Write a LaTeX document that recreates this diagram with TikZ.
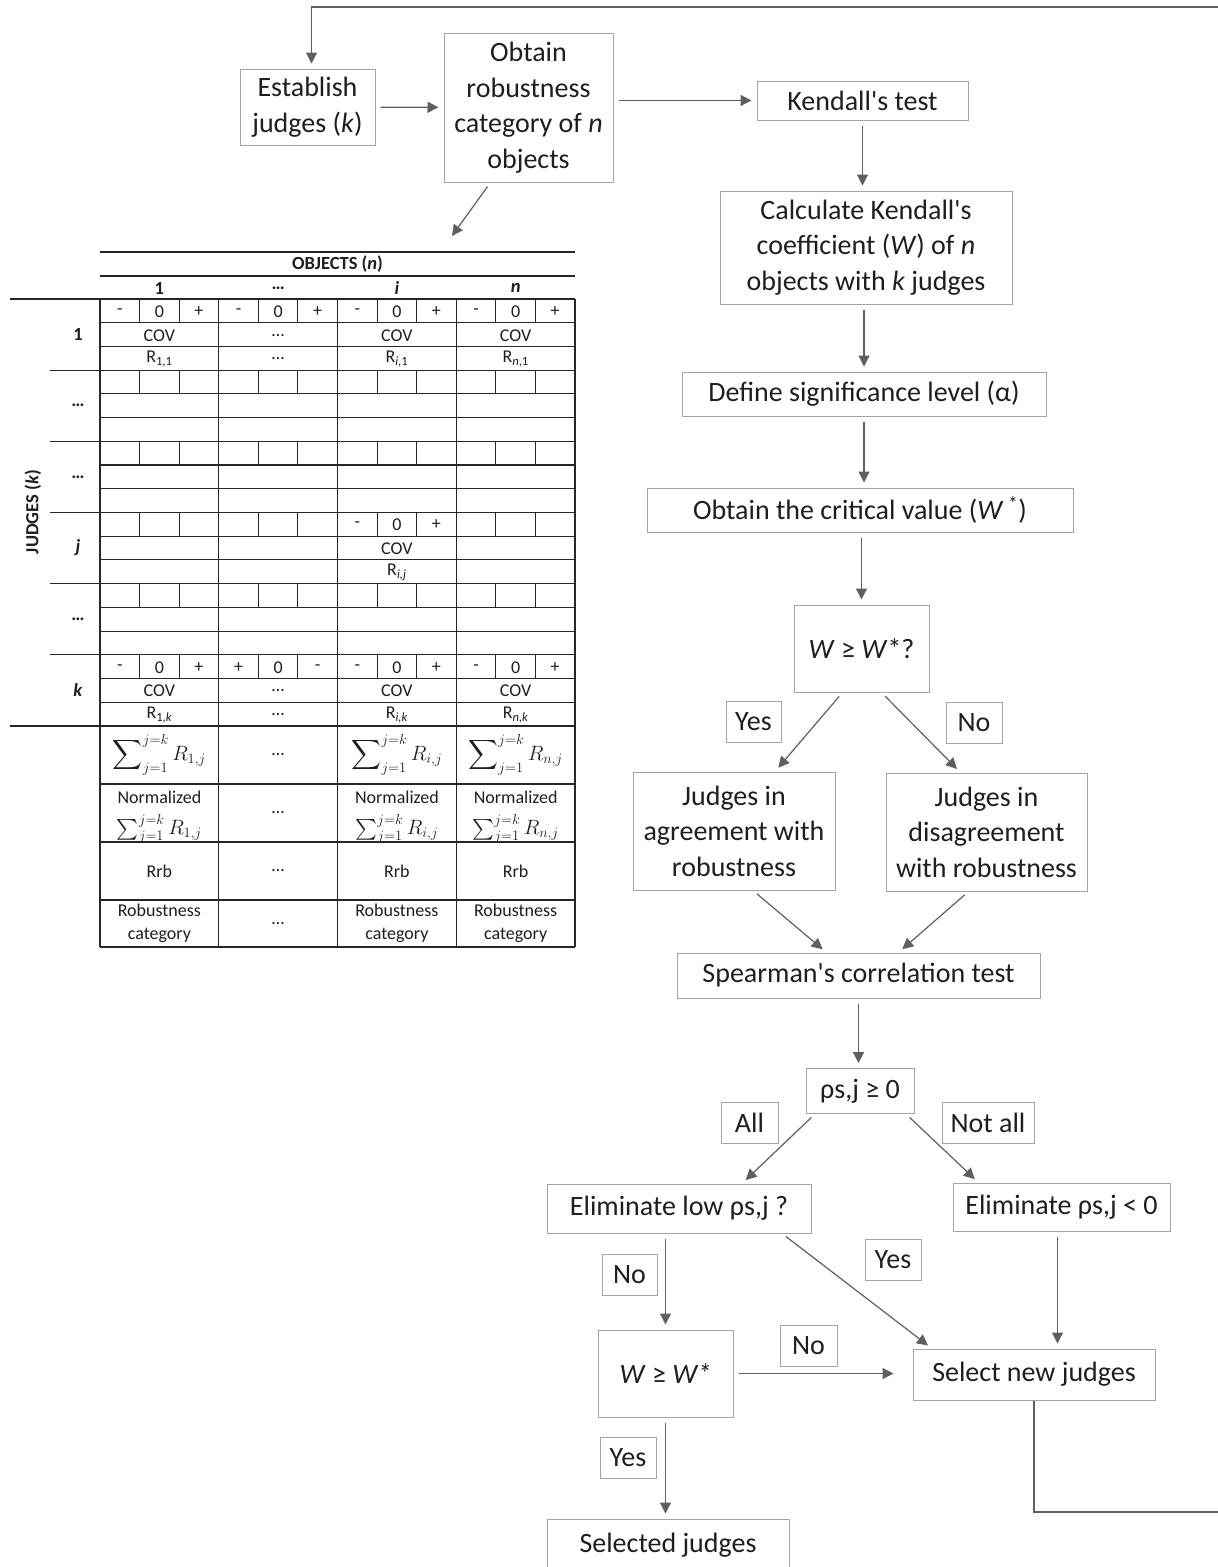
\documentclass[tikz,border=0pt]{standalone}
\usepackage{exscale}
\usepackage{fontspec}
\setmainfont{Carlito}
\usetikzlibrary{arrows.meta}
\definecolor{linea}{HTML}{5F5F5F}
\definecolor{borde}{HTML}{A4A4A4}
\definecolor{tinta}{HTML}{1E1E1E}
\begin{document}
\begin{tikzpicture}[x=1pt,y=-1pt]
\tikzset{caja/.style={draw=borde, line width=1pt, text=tinta, align=center, inner sep=0pt, font=\fontsize{28}{35.5}\selectfont},
  etiq/.style={caja, minimum height=41},
  flecha/.style={-{Triangle[length=11pt,width=11pt]}, color=linea, line width=1.2pt, shorten >=5pt, shorten <=5pt},
  celda/.style={text=tinta, inner sep=0pt, align=center, font=\fontsize{18}{21}\selectfont},
  cabeza/.style={text=tinta, inner sep=0pt, font=\bfseries\fontsize{18.5}{21}\selectfont},
  rejilla/.style={line width=1.1pt, black!85}}

\useasboundingbox (0,0) rectangle (1218,1567);

% table of judges and objects
\draw[rejilla] (100,252) -- (575,252);
\draw[rejilla] (100,276) -- (575,276);
\draw[rejilla] (10,299) -- (575,299);
\draw[rejilla] (10,726) -- (575,726);
\foreach \r in {1,2,4,5,7,8,10,11,13,14,16,17}
  \draw[rejilla] (100,299+\r*23.72) -- (575,299+\r*23.72);
\foreach \r in {3,6,9,12,15}
  \draw[rejilla] (50,299+\r*23.72) -- (575,299+\r*23.72);
\foreach \y in {784,842,900,947}
  \draw[rejilla] (100,\y) -- (575,\y);
\foreach \x in {100,218.75,337.5,456.25,575}
  \draw[rejilla] (\x,299) -- (\x,947);
\foreach \r in {0,3,...,15}
  \foreach \g in {0,1,2,3}{
    \draw[rejilla] (100+\g*118.75+39.58,299+\r*23.72) -- ++(0,23.72);
    \draw[rejilla] (100+\g*118.75+79.17,299+\r*23.72) -- ++(0,23.72);
  }

\draw (337.5,264.5) node[cabeza] (objetos) {OBJECTS (\textit{n})};
\draw (33,512) node[cabeza, rotate=90] (jueces) {JUDGES (\textit{k})};
\foreach \g/\t in {0/1, 1/…, 2/\textit{i}, 3/\textit{n}}
  \draw (159.4+\g*118.75,288) node[cabeza] (col\g) {\t};
\foreach \r/\t in {0/1, 3/…, 6/…, 9/\textit{j}, 12/…, 15/\textit{k}}
  \draw (78,299+\r*23.72+35.58) node[cabeza] (fila\r) {\t};

\foreach \r/\g/\i/\d in {0/0/-/+, 0/1/-/+, 0/2/-/+, 0/3/-/+, 9/2/-/+, 15/0/-/+, 15/1/+/-, 15/2/-/+, 15/3/-/+}{
  \path (100+\g*118.75+19.79,299+\r*23.72+12.5) node[celda] (m\r-\g) {\i}
    ++(39.58,0) node[celda] (c\r-\g) {0}
    ++(39.58,0) node[celda] (p\r-\g) {\d};
}
\foreach \r/\g/\t in {1/0/COV, 1/1/…, 1/2/COV, 1/3/COV,
    2/0/{R\textsubscript{1,1}}, 2/1/…, 2/2/{R\textsubscript{\textit{i},1}}, 2/3/{R\textsubscript{\textit{n},1}},
    10/2/COV, 11/2/{R\textsubscript{\textit{i,j}}},
    16/0/COV, 16/1/…, 16/2/COV, 16/3/COV,
    17/0/{R\textsubscript{1,\textit{k}}}, 17/1/…, 17/2/{R\textsubscript{\textit{i,k}}}, 17/3/{R\textsubscript{\textit{n,k}}}}
  \draw (159.4+\g*118.75,299+\r*23.72+12.5) node[celda] (t\r-\g) {\t};

\foreach \g/\s in {0/1, 2/i, 3/n}{
  \draw (159.4+\g*118.75,755) node[celda, font=\fontsize{19.5}{23}\selectfont] (suma\g) {$\displaystyle\sum\nolimits_{j=1}^{j=k} R_{\s,j}$};
  \draw (159.4+\g*118.75,797) node[celda] (norm\g) {Normalized};
  \draw (159.4+\g*118.75,829) node[celda, font=\fontsize{20}{24}\selectfont] (nsum\g) {$\sum_{j=1}^{j=k} R_{\s,j}$};
  \draw (159.4+\g*118.75,871) node[celda] (rrb\g) {Rrb};
  \draw (159.4+\g*118.75,923.5) node[celda, font=\fontsize{18}{23}\selectfont] (cat\g) {Robustness\\category};
}
\foreach \y/\n in {755/a, 813/b, 871/c, 923.5/d}
  \draw (278.1,\y) node[celda] (pts\n) {…};

% flow chart
\draw (307.5,107) node[caja, minimum width=135, minimum height=76] (est) {Establish\\judges (\textit{k})};
\draw (528.5,107.5) node[caja, minimum width=169, minimum height=149] (obt) {Obtain\\robustness\\category of \textit{n}\\objects};
\draw (862.5,100.5) node[caja, minimum width=211, minimum height=39] (ken) {Kendall\textquotesingle s test};
\draw (866,247.5) node[caja, minimum width=292, minimum height=113] (calc) {Calculate Kendall\textquotesingle s\\coefficient (\textit{W}) of \textit{n}\\objects with \textit{k} judges};
\draw (864,394) node[caja, minimum width=364, minimum height=44] (sig) {Define significance level (α)};
\draw (860,510) node[caja, minimum width=426, minimum height=44] (crit) {Obtain the critical value (\textit{W}\,\textsuperscript{*})};
\draw (861.5,648.5) node[caja, minimum width=135, minimum height=87] (wq) {\textit{W} ≥ \textit{W}*?};
\draw (753.5,722) node[etiq, minimum width=55] (si1) {Yes};
\draw (974,723) node[etiq, minimum width=56] (no1) {No};
\draw (734,831) node[caja, minimum width=202, minimum height=118] (agr) {Judges in\\agreement with\\robustness};
\draw (986.5,832) node[caja, minimum width=201, minimum height=118] (dis) {Judges in\\disagreement\\with robustness};
\draw (858.5,975.5) node[caja, minimum width=363, minimum height=45] (spe) {Spearman\textquotesingle s correlation test};
\draw (860,1091) node[caja, minimum width=108, minimum height=45] (rho) {ρs,j ≥ 0};
\draw (749.5,1122.5) node[etiq, minimum width=57] (todos) {All};
\draw (988,1122.5) node[etiq, minimum width=92] (notodos) {Not all};
\draw (679,1208.5) node[caja, minimum width=264, minimum height=49] (elow) {Eliminate low ρs,j ?};
\draw (1061.5,1207) node[caja, minimum width=217, minimum height=48] (eneg) {Eliminate ρs,j < 0};
\draw (629.5,1274.5) node[etiq, minimum width=55] (no2) {No};
\draw (893,1259.5) node[etiq, minimum width=56] (si2) {Yes};
\draw (665.5,1373.5) node[caja, minimum width=135, minimum height=87] (ww) {\textit{W} ≥ \textit{W*}};
\draw (808.5,1345.5) node[etiq, minimum width=57] (no3) {No};
\draw (1034,1374.5) node[caja, minimum width=242, minimum height=51] (sel) {Select new judges};
\draw (628,1457.5) node[etiq, minimum width=56] (si3) {Yes};
\draw (668,1545) node[caja, minimum width=242, minimum height=52] (fin) {Selected judges};

\coordinate (tabla) at (449,240);
\coordinate (bordeA) at (1218,7);
\coordinate (bordeB) at (1218,1512);

\draw[flecha] (est) -- (obt);
\draw[flecha] (obt.east |- ken) -- (ken);
\draw[flecha] ([xshift=-38pt]obt.south) -- (tabla);
\draw[flecha] (ken) -- (ken |- calc.north);
\draw[flecha] (calc.south -| sig) -- (sig);
\draw[flecha] (sig) -- (sig |- crit.north);
\draw[flecha] (crit.south -| wq) -- (wq);
\draw[flecha] ([xshift=-19pt]wq.south) -- ([xshift=41pt]agr.north);
\draw[flecha] ([xshift=20pt]wq.south) -- ([xshift=-26pt]dis.north);
\draw[flecha] ([xshift=19pt]agr.south) -- ([xshift=-32pt]spe.north);
\draw[flecha] ([xshift=-18pt]dis.south) -- ([xshift=40pt]spe.north);
\draw[flecha] (spe) -- (spe |- rho.north);
\draw[flecha] ([xshift=-45pt]rho.south) -- ([xshift=63pt]elow.north);
\draw[flecha] ([xshift=46pt]rho.south) -- ([xshift=-83pt]eneg.north);
\draw[flecha] (elow.south -| ww) -- (ww);
\draw[flecha] ([xshift=103pt]elow.south) -- ([xshift=-102pt]sel.north);
\draw[flecha] ([xshift=-4pt]eneg.south) -- ([xshift=-4pt]eneg.south |- sel.north);
\draw[flecha, shorten >=19pt] (ww) -- (ww -| sel.west);
\draw[flecha] (ww) -- (ww |- fin.north);
\draw[color=linea, line width=1.2pt] (sel.south) |- (bordeB);
\draw[flecha, shorten <=0pt] (bordeA) -| ([xshift=4pt]est.north);
\end{tikzpicture}
\end{document}
